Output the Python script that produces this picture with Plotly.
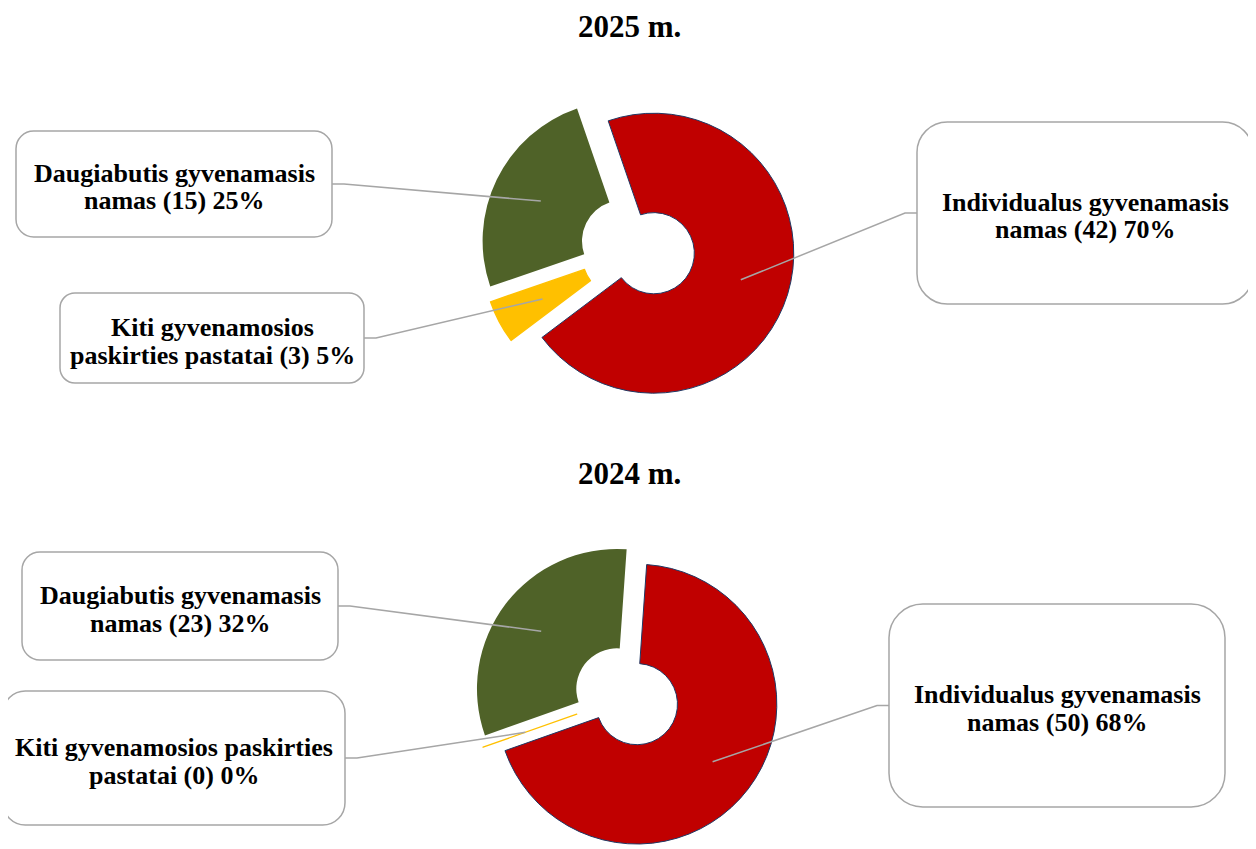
import math
import plotly.graph_objects as go

# page is 1256x849; the browser body has an 8px margin, so the figure is
# slightly smaller and all layout positions below are page pixels.
PAGE_W, PAGE_H = 1256, 849
OFF = 8
W, H = PAGE_W - OFF, PAGE_H - OFF

# ---------------- data ----------------
categories = [
    "Individualus gyvenamasis namas",
    "Kiti gyvenamosios paskirties pastatai",
    "Daugiabutis gyvenamasis namas",
]
values_2025 = [42, 3, 15]
values_2024 = [50, 0, 23]
titles = ["2025 m.", "2024 m."]

# ---------------- style / layout ----------------
slice_colors = ["#C00000", "#FFC000", "#4F6228"]
outline_colors = ["#1F3864", "#FFC000", "#4F6228"]
outline_widths = [1.0, 1.3, 0]
FONT = "Liberation Serif, Times New Roman, serif"
GREY = "#A6A6A6"

charts = [
    dict(values=values_2025, title=titles[0], title_y=26.5, rotation=-19, pull=0.12,
         center=(637.7, 248.3), half=156.8,
         boxes=[(917, 122, 1253, 304), (60, 293, 364, 383), (16, 131, 332, 237)],
         first_line_words=[2, 2, 2]),
    dict(values=values_2024, title=titles[1], title_y=474, rotation=4, pull=0.09,
         center=(626.9, 696.5), half=152.5,
         boxes=[(889, 604, 1225, 807), (3, 691, 345, 825), (22, 552, 338, 660)],
         first_line_words=[2, 3, 2]),
]


def px(x):
    return (x - OFF) / W


def py(y):
    return 1 - (y - OFF) / H


def rrect_path(x0, y0, x1, y1, rad):
    k = 0.5523 * rad
    pts = [
        ("M", [(x0 + rad, y0)]),
        ("L", [(x1 - rad, y0)]),
        ("C", [(x1 - rad + k, y0), (x1, y0 + rad - k), (x1, y0 + rad)]),
        ("L", [(x1, y1 - rad)]),
        ("C", [(x1, y1 - rad + k), (x1 - rad + k, y1), (x1 - rad, y1)]),
        ("L", [(x0 + rad, y1)]),
        ("C", [(x0 + rad - k, y1), (x0, y1 - rad + k), (x0, y1 - rad)]),
        ("L", [(x0, y0 + rad)]),
        ("C", [(x0, y0 + rad - k), (x0 + rad - k, y0), (x0 + rad, y0)]),
    ]
    s = ""
    for cmd, ps in pts:
        s += cmd + " " + " ".join(f"{px(a):.6f},{py(b):.6f}" for a, b in ps) + " "
    return s + "Z"


fig = go.Figure()
shapes = []
annotations = []

for ch in charts:
    vals = ch["values"]
    total = sum(vals)
    pcts = [round(100 * v / total) for v in vals]
    cx, cy = ch["center"]
    half = ch["half"]
    pull = ch["pull"]
    dom_x = [max(0.0, px(cx - half)), min(1.0, px(cx + half))]
    dom_y = [max(0.0, py(cy + half)), min(1.0, py(cy - half))]

    fig.add_trace(go.Pie(
        labels=categories, values=vals, sort=False, direction="clockwise",
        rotation=ch["rotation"], hole=0.29, pull=[pull] * len(vals),
        marker=dict(colors=slice_colors,
                    line=dict(color=outline_colors, width=outline_widths)),
        textinfo="none", hoverinfo="label+value+percent", showlegend=False,
        domain=dict(x=dom_x, y=dom_y),
    ))

    # actual geometry as plotly computes it (page pixels)
    bw = (dom_x[1] - dom_x[0]) * W
    bh = (dom_y[1] - dom_y[0]) * H
    r = min(bw, bh) / (2 + 2 * pull)
    pcx = (dom_x[0] + dom_x[1]) / 2 * W + OFF
    pcy = (1 - (dom_y[0] + dom_y[1]) / 2) * H + OFF

    # title
    annotations.append(dict(
        text=ch["title"], x=px(629), y=py(ch["title_y"]), xref="paper", yref="paper",
        xanchor="center", yanchor="middle", showarrow=False,
        font=dict(family=FONT, size=31, color="black", weight="bold")))

    cum = 0.0
    for i, cat in enumerate(categories):
        v = vals[i]
        mid = ch["rotation"] + 360.0 * (cum + v / 2) / total
        cum += v
        th = math.radians(mid)
        ex = pcx + 0.77 * r * math.sin(th)
        ey = pcy - 0.77 * r * math.cos(th)

        x0, y0, x1, y1 = ch["boxes"][i]
        bcx, bcy = (x0 + x1) / 2, (y0 + y1) / 2
        rad = min(x1 - x0, y1 - y0) / 6.0
        shapes.append(dict(type="path", path=rrect_path(x0, y0, x1, y1, rad),
                           xref="paper", yref="paper", fillcolor="white",
                           line=dict(color=GREY, width=1.5), layer="above"))
        # leader line
        if bcx < pcx:
            sx, elx = x1, x1 + 12
        else:
            sx, elx = x0, x0 - 12
        path = (f"M {px(sx):.6f},{py(bcy):.6f} L {px(elx):.6f},{py(bcy):.6f} "
                f"L {px(ex):.6f},{py(ey):.6f}")
        shapes.append(dict(type="path", path=path, xref="paper", yref="paper",
                           line=dict(color=GREY, width=1.5), layer="above"))

        words = f"{cat} ({v}) {pcts[i]}%".split(" ")
        n = ch["first_line_words"][i]
        lines = [" ".join(words[:n]), " ".join(words[n:])]
        tmid = bcy + 3
        for j, ln in enumerate(lines):
            annotations.append(dict(
                text=ln, x=px(bcx), y=py(tmid + (j - 0.5) * 28), xref="paper", yref="paper",
                xanchor="center", yanchor="middle", showarrow=False,
                font=dict(family=FONT, size=26, color="black", weight="bold")))

fig.update_layout(
    width=W, height=H, margin=dict(l=0, r=0, t=0, b=0),
    paper_bgcolor="white", plot_bgcolor="white",
    shapes=shapes, annotations=annotations,
)

fig.write_html("out.html")
